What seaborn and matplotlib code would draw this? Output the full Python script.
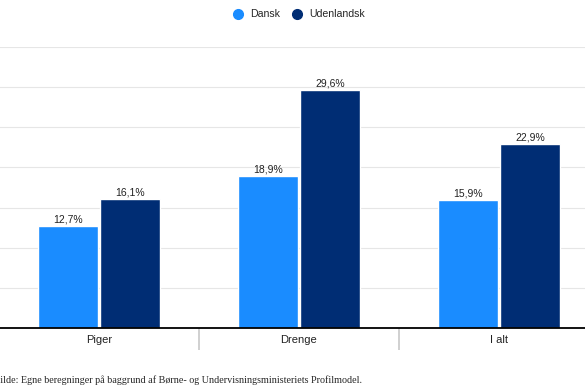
import numpy as np
import pandas as pd
import matplotlib
matplotlib.use("Agg")
import matplotlib.pyplot as plt
import seaborn as sns
from matplotlib.lines import Line2D

# data
categories = ["Piger", "Drenge", "I alt"]
groups = ["Dansk", "Udenlandsk"]
dansk = [12.7, 18.9, 15.9]
udenlandsk = [16.1, 29.6, 22.9]
colors = ["#1A8CFF", "#002D74"]

df = pd.DataFrame({
    "kategori": categories * 2,
    "gruppe": [groups[0]] * 3 + [groups[1]] * 3,
    "andel": dansk + udenlandsk,
})

sns.set_style("white")
plt.rcParams["font.family"] = ["Liberation Sans", "DejaVu Sans"]

fig = plt.figure(figsize=(5.85, 3.87), dpi=100)
# plot area runs off the right edge like in the cropped original
ax = fig.add_axes([-0.002, 0.1525, 600 / 585, 0.726])

sns.barplot(data=df, x="kategori", y="andel", hue="gruppe",
            palette=colors, width=0.62, gap=0.03, saturation=1,
            legend=False, ax=ax)

ax.set_ylim(0, 35)
ax.set_xlim(-0.5, 2.5)
ax.set_yticks(np.arange(0, 36, 5))
ax.yaxis.grid(True, color="#e6e6e6", linewidth=0.8)
ax.set_axisbelow(True)
ax.tick_params(axis="y", left=False, labelleft=False)
for s in ["top", "right", "left"]:
    ax.spines[s].set_visible(False)
ax.spines["bottom"].set_color("black")
ax.spines["bottom"].set_linewidth(1.3)
ax.set_xlabel("")
ax.set_ylabel("")

ax.set_xticks(range(3))
ax.set_xticklabels(categories, fontsize=8, color="#222222")
ax.tick_params(axis="x", which="major", bottom=False, length=0, pad=5)
# separators between categories
ax.set_xticks([-0.5, 0.5, 1.5, 2.5], minor=True)
ax.tick_params(axis="x", which="minor", bottom=True, length=16, width=1.2,
               color="#c8c8c8")
ax.xaxis.get_minor_ticks()[0].tick1line.set_color("black")

for cont in ax.containers:
    labels = [f"{b.get_height():.1f}%".replace(".", ",") for b in cont]
    ax.bar_label(cont, labels=labels, fontsize=7.5, padding=1, color="#222222")

handles = [Line2D([], [], marker="o", linestyle="", markersize=7,
                  markerfacecolor=c, markeredgecolor=c) for c in colors]
fig.legend(handles, groups, loc="center", bbox_to_anchor=(0.506, 0.963),
           ncol=2, frameon=False, fontsize=7.6, handletextpad=0.15,
           columnspacing=0.6)

fig.text(-0.012, 0.006, "Kilde: Egne beregninger på baggrund af Børne- og "
         "Undervisningsministeriets Profilmodel.",
         family=["Liberation Serif", "DejaVu Serif"], fontsize=7.3,
         ha="left", va="bottom")

fig.savefig("out.png", dpi=100)
